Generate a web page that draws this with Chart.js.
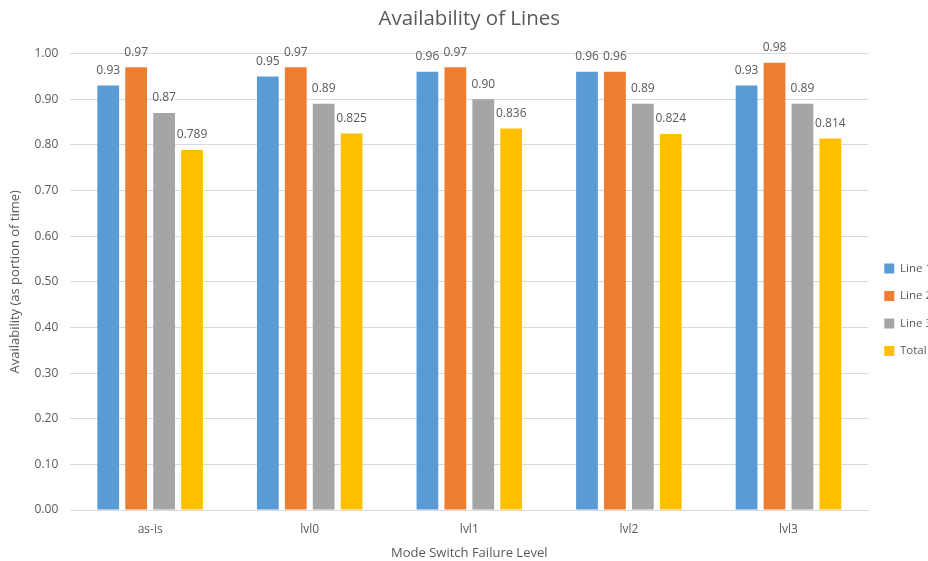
<!DOCTYPE html>
<html>
<head>
<meta charset="utf-8">
<script src="https://cdn.jsdelivr.net/npm/chart.js@4/dist/chart.umd.min.js"></script>
<style>
  html, body { margin: 0; padding: 0; background: #ffffff; overflow: hidden; }
  #wrap { position: relative; width: 942px; height: 561px; }
</style>
</head>
<body>
<div id="wrap"><canvas id="chart"></canvas></div>
<script>
// Failure levels along the x axis
const categories = ['as-is', 'lvl0', 'lvl1', 'lvl2', 'lvl3'];

// Availability per line (portion of time)
const line1 = [0.93, 0.95, 0.96, 0.96, 0.93];
const line2 = [0.97, 0.97, 0.97, 0.96, 0.98];
const line3 = [0.87, 0.89, 0.90, 0.89, 0.89];
const total = [0.789, 0.825, 0.836, 0.824, 0.814];

const seriesNames = ['Line 1', 'Line 2', 'Line 3', 'Total'];
const seriesDecimals = [2, 2, 2, 3];
const seriesColors = ['#5b9bd5', '#ed7d31', '#a5a5a5', '#ffc000'];

const yTicks = [0, 0.1, 0.2, 0.3, 0.4, 0.5, 0.6, 0.7, 0.8, 0.9, 1.0];

const TEXT = '#595959';
const GRID = '#d9d9d9';
const FONT = '"Open Sans", sans-serif';

// Value labels drawn above each bar
const valueLabels = {
  id: 'valueLabels',
  afterDatasetsDraw(chart) {
    const ctx = chart.ctx;
    ctx.save();
    ctx.font = '12px ' + FONT;
    ctx.fillStyle = TEXT;
    ctx.textAlign = 'center';
    ctx.textBaseline = 'middle';
    chart.data.datasets.forEach((ds, i) => {
      const meta = chart.getDatasetMeta(i);
      meta.data.forEach((bar, j) => {
        const v = ds.data[j];
        ctx.fillText(v.toFixed(seriesDecimals[i]), bar.x, bar.y - 15);
      });
    });
    ctx.restore();
  }
};

const seriesData = [line1, line2, line3, total];

new Chart(document.getElementById('chart'), {
  type: 'bar',
  data: {
    labels: categories,
    datasets: seriesData.map((d, i) => ({
      label: seriesNames[i],
      data: d,
      backgroundColor: seriesColors[i],
      borderWidth: 0,
      categoryPercentage: 0.70,
      barPercentage: 0.78
    }))
  },
  options: {
    responsive: true,
    maintainAspectRatio: false,
    animation: false,
    layout: { padding: { left: 7, right: 0, top: 0, bottom: 0 } },
    plugins: {
      title: {
        display: true,
        fullSize: false,
        text: 'Availability of Lines',
        color: TEXT,
        font: { family: FONT, size: 20.5, weight: 'normal' },
        padding: { top: 7, bottom: 22 }
      },
      legend: {
        position: 'right',
        title: {
          display: true,
          text: ' ',
          font: { family: FONT, size: 12 },
          padding: { top: 22, bottom: 22 }
        },
        labels: {
          color: TEXT,
          font: { family: FONT, size: 11.5 },
          boxWidth: 10,
          boxHeight: 10,
          padding: 16
        }
      },
      tooltip: { enabled: false }
    },
    scales: {
      x: {
        grid: { display: false },
        border: { display: true, color: GRID },
        ticks: {
          color: TEXT,
          font: { family: FONT, size: 12 },
          padding: 4
        },
        title: {
          display: true,
          text: 'Mode Switch Failure Level',
          color: TEXT,
          font: { family: FONT, size: 13 },
          padding: { top: 5, bottom: 0 }
        }
      },
      y: {
        min: 0,
        max: 1,
        afterBuildTicks(axis) { axis.ticks = yTicks.map(v => ({ value: v })); },
        grid: { color: GRID, drawTicks: false },
        border: { display: false },
        ticks: {
          color: TEXT,
          font: { family: FONT, size: 12 },
          padding: 12,
          callback: v => Number(v).toFixed(2)
        },
        title: {
          display: true,
          text: 'Availability (as portion of time)',
          color: TEXT,
          font: { family: FONT, size: 13 },
          padding: { top: 0, bottom: 0 }
        }
      }
    }
  },
  plugins: [valueLabels]
});
</script>
</body>
</html>
